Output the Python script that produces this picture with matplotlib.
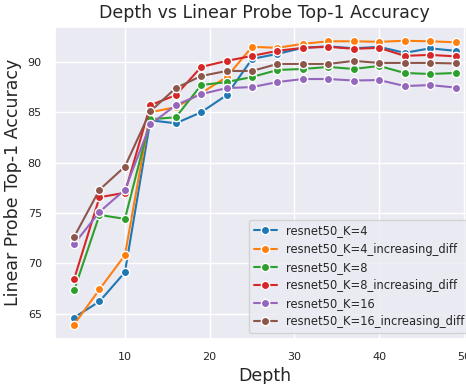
import matplotlib
matplotlib.use("Agg")
import matplotlib.pyplot as plt
import seaborn as sns

# глубина (ось x)
depths = [4, 7, 10, 13, 16, 19, 22, 25, 28, 31, 34, 37, 40, 43, 46, 49]

# точность линейного пробинга для каждой модели
k4 = [64.6, 66.2, 69.1, 84.2, 83.9, 85.0, 86.7, 90.3, 90.8, 91.4, 91.55, 91.35, 91.5, 90.9, 91.35, 91.1]
k4_inc = [63.9, 67.4, 70.8, 85.0, 85.5, 86.9, 88.5, 91.5, 91.4, 91.8, 92.05, 92.05, 92.0, 92.1, 92.05, 91.95]
k8 = [67.3, 74.8, 74.4, 84.3, 84.5, 87.7, 88.0, 88.5, 89.2, 89.3, 89.5, 89.3, 89.6, 88.9, 88.8, 88.9]
k8_inc = [68.4, 76.55, 77.0, 85.7, 86.7, 89.5, 90.1, 90.6, 91.1, 91.4, 91.5, 91.3, 91.4, 90.6, 90.7, 90.55]
k16 = [71.9, 75.1, 77.3, 83.8, 85.7, 86.8, 87.4, 87.5, 88.0, 88.3, 88.3, 88.15, 88.2, 87.6, 87.7, 87.45]
k16_inc = [72.6, 77.3, 79.6, 85.1, 87.4, 88.6, 89.1, 89.1, 89.8, 89.8, 89.8, 90.1, 89.9, 89.9, 89.9, 89.85]

names = ["resnet50_K=4", "resnet50_K=4_increasing_diff", "resnet50_K=8",
         "resnet50_K=8_increasing_diff", "resnet50_K=16", "resnet50_K=16_increasing_diff"]
series = [k4, k4_inc, k8, k8_inc, k16, k16_inc]

sns.set_theme(style="darkgrid")
colors = sns.color_palette("tab10")

fig = plt.figure(figsize=(4.66, 3.84), dpi=100)
# оси чуть выходят за правый край, как на исходной картинке
ax = fig.add_axes([0.118, 0.118, 0.9004, 0.8125])

for i, (name, vals) in enumerate(zip(names, series)):
    ax.plot(depths, vals, marker="o", markersize=6, markeredgecolor="white",
            markeredgewidth=1, linewidth=1.5, color=colors[i], label=name)

ax.set_xlim(1.75, 51.25)
ax.set_ylim(62.5, 93.5)
ax.set_title("Depth vs Linear Probe Top-1 Accuracy", fontsize=12.5)
ax.set_xlabel("Depth", fontsize=12.5)
ax.set_ylabel("Linear Probe Top-1 Accuracy", fontsize=12.5)
ax.tick_params(labelsize=8)
ax.legend(loc="lower right", fontsize=8.3, labelspacing=0.45)

fig.savefig("out.png", dpi=100)
